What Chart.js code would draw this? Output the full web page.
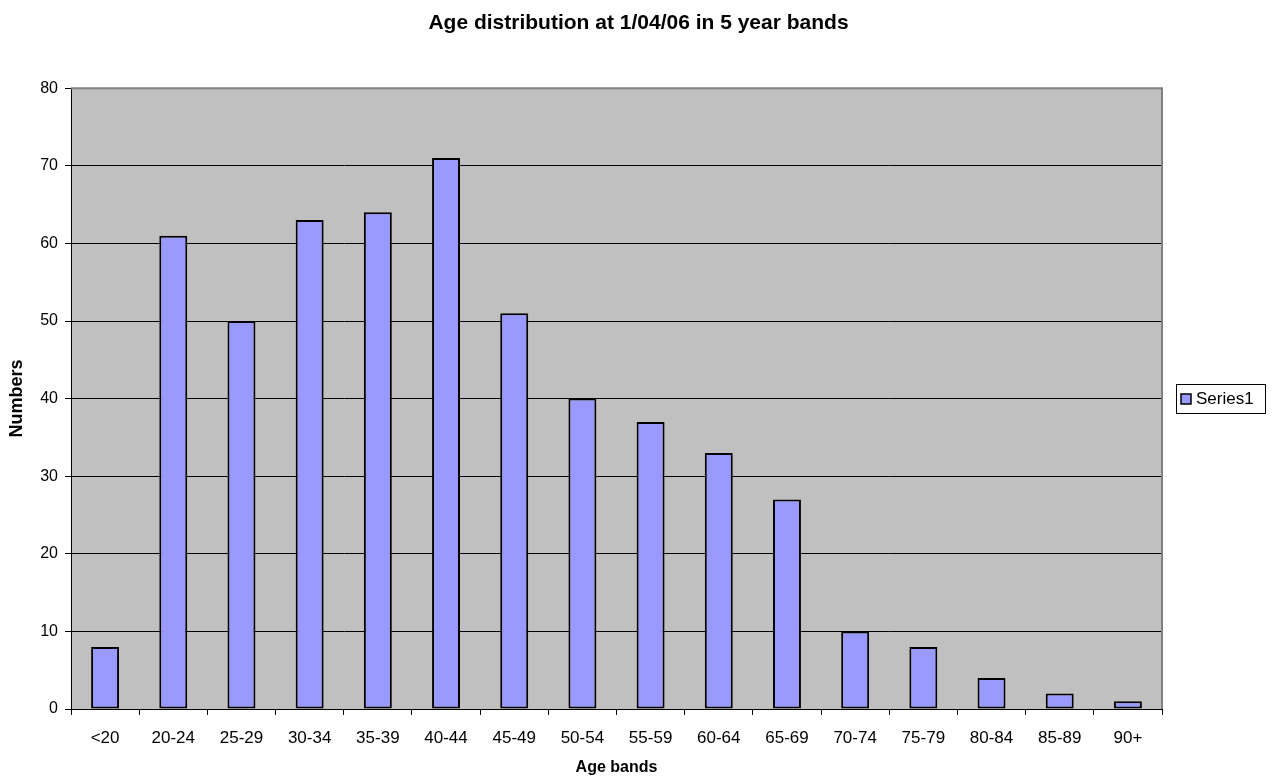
<!DOCTYPE html>
<html>
<head>
<meta charset="utf-8">
<script src="https://cdn.jsdelivr.net/npm/chart.js@4.4.1/dist/chart.umd.min.js"></script>
<style>
  html, body { margin: 0; padding: 0; background: #fff; }
  #wrap { width: 1277px; height: 778px; }
</style>
</head>
<body>
<div id="wrap"><canvas id="c" width="1277" height="778"></canvas></div>
<script>
// data
const ageBands = ['<20', '20-24', '25-29', '30-34', '35-39', '40-44', '45-49', '50-54',
  '55-59', '60-64', '65-69', '70-74', '75-79', '80-84', '85-89', '90+'];
const series1 = [8, 61, 50, 63, 64, 71, 51, 40, 37, 33, 27, 10, 8, 4, 2, 1];
const yTicks = [0, 10, 20, 30, 40, 50, 60, 70, 80];

const FONT = '"Liberation Sans", Arial, sans-serif';
const BAR_FILL = '#9999FF';

// gray plot area + frame, and the boxed legend on the right
const excelLook = {
  id: 'excelLook',
  beforeDraw(chart) {
    const a = chart.chartArea;
    const ctx = chart.ctx;
    ctx.save();
    ctx.fillStyle = '#C0C0C0';
    ctx.fillRect(a.left, a.top, a.right - a.left, a.bottom - a.top);
    ctx.restore();
  },
  afterDraw(chart) {
    const a = chart.chartArea;
    const ctx = chart.ctx;
    ctx.save();
    ctx.strokeStyle = '#808080';
    ctx.lineWidth = 2;
    ctx.beginPath();
    ctx.moveTo(a.left, a.top);
    ctx.lineTo(a.right, a.top);
    ctx.lineTo(a.right, a.bottom);
    ctx.stroke();

    // legend
    const lx = 1176, ly = 384, lw = 89, lh = 29;
    ctx.fillStyle = '#fff';
    ctx.fillRect(lx, ly, lw, lh);
    ctx.strokeStyle = '#000';
    ctx.lineWidth = 1;
    ctx.strokeRect(lx + 0.5, ly + 0.5, lw, lh);
    ctx.fillStyle = BAR_FILL;
    ctx.fillRect(lx + 5, ly + 10, 10, 10);
    ctx.lineWidth = 1.5;
    ctx.strokeRect(lx + 5, ly + 10, 10, 10);
    ctx.fillStyle = '#000';
    ctx.font = '17px ' + FONT;
    ctx.textBaseline = 'middle';
    ctx.fillText(chart.data.datasets[0].label, lx + 20, ly + lh / 2 + 1);
    ctx.restore();
  }
};

new Chart(document.getElementById('c'), {
  type: 'bar',
  data: {
    labels: ageBands,
    datasets: [{
      label: 'Series1',
      data: series1,
      backgroundColor: BAR_FILL,
      borderColor: '#000',
      borderWidth: 2,
      borderSkipped: false,
      barPercentage: 0.41,
      categoryPercentage: 1
    }]
  },
  options: {
    responsive: false,
    animation: false,
    devicePixelRatio: 1,
    layout: { padding: 0 },
    plugins: {
      legend: { display: false },
      tooltip: { enabled: false },
      title: {
        display: true,
        text: 'Age distribution at 1/04/06 in 5 year bands',
        color: '#000',
        font: { family: FONT, size: 21, weight: 'bold', lineHeight: 1.2 },
        padding: { top: 11, bottom: 52 }
      }
    },
    scales: {
      x: {
        offset: true,
        grid: {
          offset: true,
          drawOnChartArea: false,
          drawTicks: true,
          tickLength: 6,
          color: '#000'
        },
        border: { color: '#000', width: 1 },
        ticks: {
          color: '#000',
          padding: 13,
          maxRotation: 0,
          autoSkip: false,
          font: { family: FONT, size: 17 }
        },
        title: {
          display: true,
          text: 'Age bands',
          color: '#000',
          font: { family: FONT, size: 16, weight: 'bold' },
          padding: { top: 4, bottom: 1 }
        },
        afterFit(scale) { scale.height = 69; }
      },
      y: {
        min: yTicks[0],
        max: yTicks[yTicks.length - 1],
        afterBuildTicks(scale) {
          scale.ticks = yTicks.map(function (v) { return { value: v }; });
        },
        grid: {
          color: '#000',
          lineWidth: 1,
          tickLength: 6
        },
        border: { color: '#000', width: 1 },
        ticks: {
          color: '#000',
          padding: 7,
          font: { family: FONT, size: 16 }
        },
        title: {
          display: true,
          text: 'Numbers',
          color: '#000',
          font: { family: FONT, size: 18, weight: 'bold' },
          padding: { top: 6, bottom: 0 }
        },
        afterFit(scale) { scale.width = 71; }
      },
      // empty box on the right, keeps room for the legend
      side: {
        type: 'linear',
        position: 'right',
        grid: { display: false },
        border: { display: false },
        ticks: { display: false },
        afterFit(scale) { scale.width = 115; }
      }
    }
  },
  plugins: [excelLook]
});
</script>
</body>
</html>
